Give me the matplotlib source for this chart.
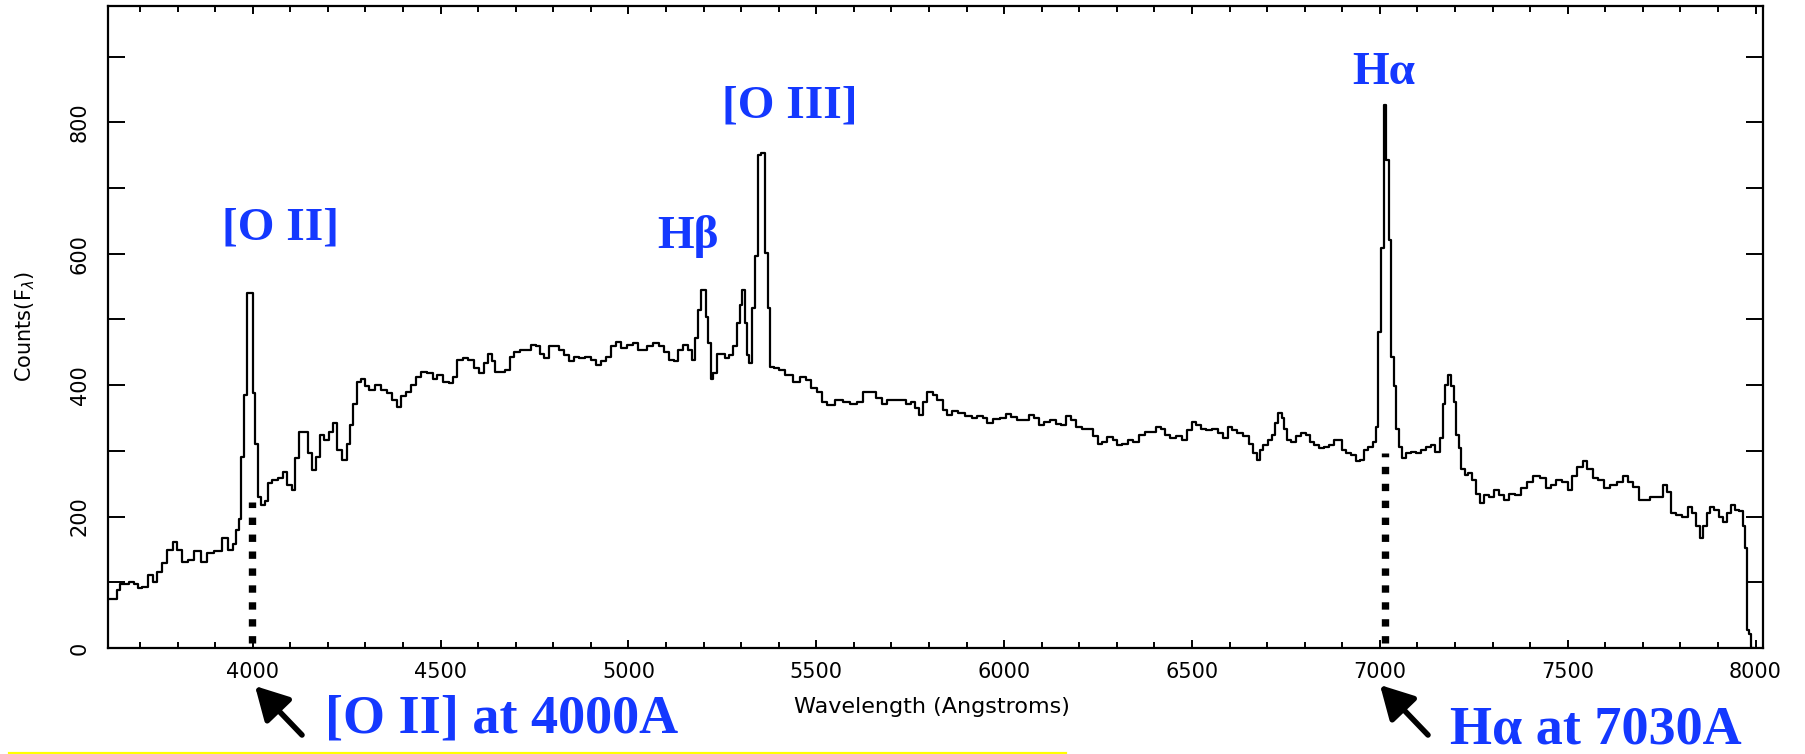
import numpy as np
import matplotlib.pyplot as plt
from matplotlib.lines import Line2D
from matplotlib.patches import FancyArrowPatch
from matplotlib.ticker import MultipleLocator

# spectrum (Angstrom, counts)
wavelength = [3616, 3638, 3642, 3651, 3664, 3678, 3691, 3700, 3713, 3727, 3740, 3753, 3766, 3780, 3793,
              3806, 3820, 3837, 3853, 3869, 3886, 3908, 3926, 3942, 3953, 3959, 3966, 3973, 3980, 3988,
              3997, 4003, 4010, 4017, 4028, 4037, 4046, 4059, 4073, 4086, 4099, 4108, 4117, 4128, 4144,
              4152, 4161, 4175, 4183, 4197, 4210, 4219, 4231, 4246, 4255, 4263, 4272, 4281, 4294, 4303,
              4317, 4334, 4348, 4365, 4379, 4388, 4401, 4414, 4427, 4441, 4454, 4472, 4485, 4498, 4516,
              4530, 4538, 4552, 4565, 4583, 4596, 4609, 4623, 4632, 4640, 4649, 4663, 4680, 4689, 4703,
              4720, 4734, 4747, 4760, 4769, 4782, 4796, 4809, 4822, 4836, 4849, 4862, 4876, 4893, 4907,
              4923, 4933, 4947, 4960, 4973, 4986, 5004, 5018, 5031, 5044, 5057, 5075, 5088, 5102, 5115,
              5128, 5137, 5151, 5164, 5173, 5182, 5190, 5198, 5204, 5208, 5215, 5222, 5230, 5239, 5251,
              5262, 5275, 5284, 5293, 5301, 5306, 5313, 5319, 5325, 5332, 5341, 5348, 5359, 5366, 5375,
              5381, 5395, 5408, 5426, 5448, 5465, 5479, 5492, 5510, 5523, 5536, 5563, 5581, 5599, 5616,
              5634, 5652, 5665, 5683, 5696, 5714, 5732, 5745, 5758, 5767, 5780, 5789, 5803, 5816, 5829,
              5843, 5854, 5869, 5887, 5905, 5922, 5936, 5949, 5962, 5980, 5998, 6011, 6024, 6042, 6060,
              6073, 6087, 6100, 6113, 6131, 6144, 6158, 6171, 6184, 6197, 6215, 6233, 6242, 6255, 6268,
              6282, 6295, 6308, 6322, 6335, 6353, 6366, 6384, 6397, 6410, 6424, 6433, 6450, 6464, 6481,
              6495, 6504, 6517, 6530, 6544, 6561, 6575, 6588, 6601, 6614, 6628, 6646, 6659, 6668, 6677,
              6686, 6694, 6708, 6717, 6725, 6734, 6743, 6749, 6757, 6770, 6783, 6796, 6810, 6819, 6832,
              6845, 6859, 6872, 6885, 6896, 6905, 6916, 6930, 6943, 6952, 6965, 6974, 6987, 6993, 6999,
              7006, 7014, 7020, 7027, 7034, 7040, 7047, 7054, 7063, 7076, 7089, 7102, 7116, 7129, 7142,
              7154, 7165, 7171, 7178, 7187, 7194, 7200, 7206, 7213, 7220, 7231, 7240, 7253, 7260, 7271,
              7284, 7298, 7311, 7324, 7338, 7351, 7369, 7382, 7400, 7417, 7435, 7448, 7462, 7475, 7493,
              7506, 7519, 7533, 7546, 7559, 7573, 7590, 7604, 7621, 7639, 7653, 7666, 7684, 7697, 7710,
              7728, 7746, 7759, 7772, 7779, 7795, 7812, 7826, 7836, 7848, 7857, 7865, 7874, 7883, 7897,
              7907, 7919, 7928, 7941, 7950, 7963, 7969, 7975, 7980, 7986, 7992]
counts = [75, 75, 88, 98, 98, 100, 98, 91, 93, 111, 101, 116, 129, 149, 162,
          149, 131, 134, 147, 131, 144, 147, 167, 149, 159, 180, 197, 291, 385, 540,
          540, 388, 311, 230, 218, 223, 251, 256, 258, 268, 248, 240, 289, 329, 329,
          296, 271, 291, 324, 317, 329, 342, 301, 286, 311, 339, 372, 405, 410, 398,
          393, 400, 393, 388, 377, 367, 383, 390, 400, 413, 420, 418, 410, 415, 405,
          403, 413, 438, 441, 438, 426, 418, 433, 448, 436, 420, 420, 423, 443, 451,
          453, 453, 461, 459, 448, 441, 459, 459, 453, 446, 436, 443, 441, 443, 438,
          431, 436, 443, 459, 466, 456, 461, 464, 453, 453, 459, 464, 459, 451, 438,
          436, 453, 461, 453, 438, 471, 514, 545, 545, 504, 464, 410, 418, 448, 448,
          441, 446, 459, 494, 522, 545, 494, 446, 433, 517, 596, 750, 754, 601, 517,
          428, 426, 423, 415, 405, 413, 408, 395, 390, 375, 370, 377, 375, 371, 375,
          390, 390, 380, 372, 377, 377, 377, 372, 375, 365, 355, 375, 390, 385, 377,
          362, 355, 360, 357, 353, 350, 353, 350, 342, 348, 350, 356, 351, 347, 347,
          355, 350, 339, 344, 347, 341, 339, 353, 347, 337, 334, 333, 322, 311, 314,
          321, 317, 309, 311, 316, 314, 324, 329, 329, 337, 334, 324, 319, 322, 317,
          332, 344, 339, 334, 332, 334, 327, 319, 337, 332, 327, 322, 311, 296, 286,
          301, 309, 317, 324, 342, 358, 350, 334, 317, 314, 322, 327, 324, 314, 309,
          304, 306, 309, 317, 317, 301, 296, 294, 284, 286, 301, 306, 314, 337, 481,
          608, 827, 743, 621, 443, 398, 334, 306, 289, 296, 299, 296, 301, 306, 309,
          299, 319, 372, 400, 415, 398, 375, 324, 304, 273, 263, 266, 256, 235, 220,
          233, 230, 240, 233, 225, 235, 233, 243, 252, 261, 258, 243, 248, 256, 253,
          240, 261, 276, 284, 273, 258, 256, 243, 248, 253, 261, 253, 245, 225, 225,
          230, 230, 248, 238, 205, 202, 200, 215, 205, 185, 167, 185, 205, 215, 210,
          200, 192, 205, 218, 210, 208, 185, 152, 27, 22, 0]

line_labels = ['[O II]', 'Hβ', '[O III]', 'Hα']
label_wave = [4073, 5159, 5430, 7011]
label_counts = [621, 609, 807, 858]

marker_wave = [3999, 7014]
marker_top = [222, 297]

blue = '#1438ff'
serif = ['Liberation Serif', 'DejaVu Serif']

fig = plt.figure(figsize=(18.05, 7.54), dpi=100)
ax = fig.add_axes([107.7 / 1805, 1 - 648 / 754, 1655 / 1805, 642 / 754])

ax.step(wavelength, counts, where='mid', color='black', lw=1.6)

# dotted markers under the lines
for w, top in zip(marker_wave, marker_top):
    ax.plot([w, w], [8, top], color='black', lw=5.3, linestyle=(0, (1, 1.3)),
            dash_capstyle='butt')

for txt, w, c in zip(line_labels, label_wave, label_counts):
    ax.text(w, c, txt, ha='center', va='baseline', fontsize=34, fontweight='bold',
            family=serif, color=blue)

ax.set_xlim(3614, 8019)
ax.set_ylim(0, 977)
ax.xaxis.set_major_locator(MultipleLocator(500))
ax.xaxis.set_minor_locator(MultipleLocator(100))
ax.yaxis.set_major_locator(MultipleLocator(200))
ax.yaxis.set_minor_locator(MultipleLocator(100))
ax.tick_params(which='both', direction='in', top=True, right=True, width=1.4)
ax.tick_params(axis='x', which='major', length=6, pad=10, labelsize=15)
ax.tick_params(axis='x', which='minor', length=4)
ax.tick_params(axis='y', which='both', length=12, pad=13, labelsize=15)
plt.setp(ax.get_yticklabels(), rotation=90, va='center')
for s in ax.spines.values():
    s.set_linewidth(1.6)

ax.set_xlabel('Wavelength (Angstroms)', fontsize=16)
ax.xaxis.set_label_coords(0.498, -0.077)
ax.set_ylabel('Counts(F$_\\lambda$)', fontsize=15)
ax.yaxis.set_label_coords(-0.043, 0.5)

# bottom annotations
fig.text(325 / 1805, 1 - 733 / 754, '[O II] at 4000A', ha='left', va='baseline',
         fontsize=39, fontweight='bold', family=serif, color=blue)
fig.text(1450 / 1805, 1 - 744 / 754, 'Hα at 7030A', ha='left', va='baseline',
         fontsize=39, fontweight='bold', family=serif, color=blue)

for tail, head in [((302, 735), (255, 686)), ((1428, 735), (1380, 685))]:
    arr = FancyArrowPatch((tail[0] / 1805, 1 - tail[1] / 754), (head[0] / 1805, 1 - head[1] / 754),
                          transform=fig.transFigure, arrowstyle='-|>,head_length=1.0,head_width=0.55',
                          mutation_scale=20, lw=4, color='black', shrinkA=0, shrinkB=0)
    fig.add_artist(arr)

fig.add_artist(Line2D([9 / 1805, 1065 / 1805], [1 - 752.5 / 754] * 2, color='#ffff00', lw=2.3,
                      transform=fig.transFigure))

fig.savefig('out.png', dpi=100)
